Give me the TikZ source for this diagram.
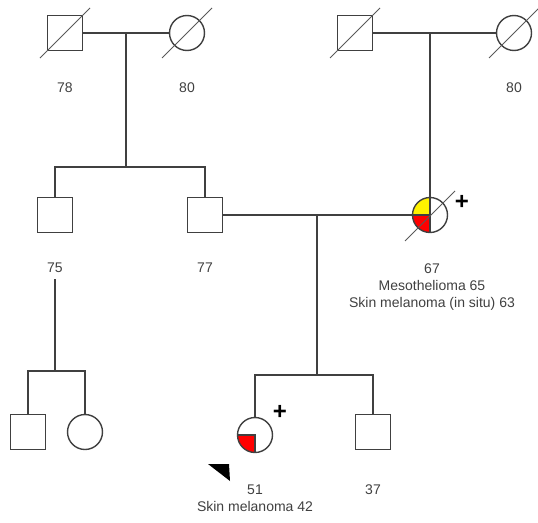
\documentclass[tikz,border=0pt]{standalone}
\usepackage{fontspec}
\setmainfont{Liberation Sans}
\tikzset{
  sy/.style={draw=black!75,line width=1.4pt,inner sep=0pt,fill=white},
  ml/.style={sy,rectangle,minimum size=35pt},
  fm/.style={sy,circle,minimum size=35pt},
  ln/.style={black!75,line width=1.4pt},
  dc/.style={black!65,line width=0.9pt},
  lb/.style={text=black!75,font=\fontsize{14}{17}\selectfont,align=center},
  pl/.style={font=\fontsize{24}{24}\selectfont\bfseries},
  mel/.style={path picture={
    \filldraw[ln,fill=red] (path picture bounding box.center) rectangle (path picture bounding box.south west);}},
  mes/.style={path picture={
    \filldraw[ln,fill=yellow] (path picture bounding box.center) rectangle (path picture bounding box.north west);
    \filldraw[ln,fill=red] (path picture bounding box.center) rectangle (path picture bounding box.south west);}},
}

\begin{document}
\begin{tikzpicture}[x=1pt,y=-1pt]
  \useasboundingbox (0,0) rectangle (538,522);

  % grandparents
  \node[ml] (gf1) at (65,33) {};
  \node[fm] (gm1) at (187,33) {};
  \node[ml] (gf2) at (355,33) {};
  \node[fm] (gm2) at (514,33) {};

  % second generation
  \node[ml] (u1) at (55,215) {};
  \node[ml] (fa) at (205,215) {};
  \node[fm,mes] (mo) at (430,215) {};

  % third generation
  \node[ml] (c1) at (28,432) {};
  \node[fm] (c2) at (85,432) {};
  \node[fm,mel] (pb) at (255,435) {};
  \node[ml] (br) at (373,432) {};

  \coordinate (j1) at (126,33);
  \coordinate (s1) at (126,167);
  \coordinate (j2) at (430,33);
  \coordinate (j3) at (317,215);
  \coordinate (s3) at (317,375);
  \coordinate (j4) at (55,279);
  \coordinate (s4) at (55,371);

  \draw[ln] (gf1) -- (gm1);
  \draw[ln] (gf2) -- (gm2);
  \draw[ln] (fa) -- (mo);
  \draw[ln] (j1) -- (s1);
  \draw[ln] (u1.north) |- (s1) -| (fa.north);
  \draw[ln] (j2) -- (mo.north);
  \draw[ln] (j3) -- (s3);
  \draw[ln] (pb.north) |- (s3) -| (br.north);
  \draw[ln] (j4) -- (s4);
  \draw[ln] (c1.north) |- (s4) -| (c2.north);

  % deceased
  \draw[dc] ([shift={(-25,25)}]gf1.center) -- ([shift={(25,-25)}]gf1.center);
  \draw[dc] ([shift={(-25,25)}]gm1.center) -- ([shift={(25,-25)}]gm1.center);
  \draw[dc] ([shift={(-25,25)}]gf2.center) -- ([shift={(25,-25)}]gf2.center);
  \draw[dc] ([shift={(-25,25)}]gm2.center) -- ([shift={(25,-25)}]gm2.center);
  \draw[dc] ([shift={(-25,26)}]mo.center) -- ([shift={(25,-24)}]mo.center);

  \node[pl] (p1) at (462,202) {+};
  \node[pl] (p2) at (280,412) {+};
  \fill[black] (208,464) -- (229,464) -- (230,481) -- cycle;

  \node[lb] (a1) at (65,88) {78};
  \node[lb] (a2) at (187,88) {80};
  \node[lb] (a3) at (514,88) {80};
  \node[lb] (a4) at (55,268) {75};
  \node[lb] (a5) at (205,268) {77};
  \node[lb] (a6) at (432,287) {67\\Mesothelioma 65\\Skin melanoma (in situ) 63};
  \node[lb] (a7) at (255,498) {51\\Skin melanoma 42};
  \node[lb] (a8) at (373,490) {37};
\end{tikzpicture}
\end{document}
